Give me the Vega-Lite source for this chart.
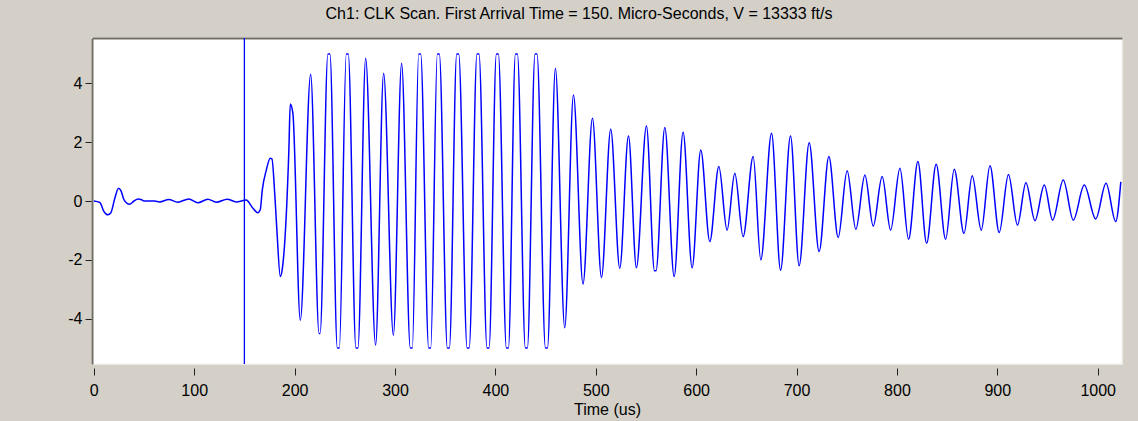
{
  "$schema": "https://vega.github.io/schema/vega-lite/v6.json",
  "width": 1030,
  "height": 326,
  "autosize": {"type": "none"},
  "padding": {"left": 92, "top": 38, "right": 16, "bottom": 57},
  "background": "#d4d0c8",
  "title": {
    "text": "Ch1: CLK Scan. First Arrival Time = 150. Micro-Seconds, V = 13333 ft/s",
    "font": "Liberation Sans",
    "fontSize": 16,
    "fontWeight": "normal",
    "color": "#000000",
    "anchor": "middle",
    "frame": "group",
    "baseline": "alphabetic",
    "offset": 2,
    "dx": -28
  },
  "config": {
    "view": {"fill": "#ffffff", "stroke": "#f4f3ee", "strokeWidth": 1.5}
  },
  "layer": [
    {
      "data": {
        "values": [
          {"t": 0, "v": 0}, {"t": 6, "v": -0.05}, {"t": 10, "v": -0.35}, {"t": 14, "v": -0.47}, {"t": 17, "v": -0.4},
          {"t": 21, "v": 0.1}, {"t": 24.6, "v": 0.43}, {"t": 27, "v": 0.35}, {"t": 30, "v": 0.05}, {"t": 35.6, "v": -0.11},
          {"t": 40, "v": 0.0}, {"t": 43.9, "v": 0.07}, {"t": 47, "v": 0.05}, {"t": 50, "v": 0}, {"t": 60.5, "v": 0},
          {"t": 65.5, "v": -0.03}, {"t": 74.7, "v": 0.05}, {"t": 83.7, "v": -0.04}, {"t": 94.7, "v": 0.07}, {"t": 103.6, "v": -0.06},
          {"t": 113.6, "v": 0.06}, {"t": 122, "v": -0.04}, {"t": 132.9, "v": 0.06}, {"t": 141.9, "v": -0.03}, {"t": 151.9, "v": 0.03},
          {"t": 157.5, "v": -0.2}, {"t": 163.4, "v": -0.4}, {"t": 165.8, "v": -0.3}, {"t": 167.8, "v": 0.37}, {"t": 171.8, "v": 1.05},
          {"t": 175.8, "v": 1.45}, {"t": 177.4, "v": 1.43}, {"t": 180.4, "v": 0.15}, {"t": 182.4, "v": -1.0}, {"t": 185.8, "v": -2.57},
          {"t": 187.8, "v": -2.3}, {"t": 194.3, "v": 1.73}, {"t": 195.7, "v": 3.3}, {"t": 198.3, "v": 2.98},
          {"t": 205.7, "v": -4.05}, {"t": 216, "v": 4.31}, {"t": 224.4, "v": -4.5}, {"t": 225.4, "v": -4.5},
          {"t": 233.2, "v": 5}, {"t": 235.2, "v": 5}, {"t": 242.6, "v": -5}, {"t": 244.6, "v": -5},
          {"t": 251.5, "v": 5}, {"t": 253.5, "v": 5}, {"t": 261.1, "v": -5}, {"t": 263.1, "v": -5},
          {"t": 270.8, "v": 4.85}, {"t": 280.7, "v": -4.9}, {"t": 288.7, "v": 4.34}, {"t": 298.4, "v": -4.56},
          {"t": 306.6, "v": 4.68}, {"t": 315.3, "v": -5}, {"t": 317.3, "v": -5}, {"t": 323.6, "v": 5}, {"t": 325.6, "v": 5},
          {"t": 333.6, "v": -5}, {"t": 335.6, "v": -5}, {"t": 342.2, "v": 5}, {"t": 344.2, "v": 5},
          {"t": 352.2, "v": -5}, {"t": 354.2, "v": -5}, {"t": 361.5, "v": 5}, {"t": 363.5, "v": 5},
          {"t": 371.9, "v": -5}, {"t": 373.9, "v": -5}, {"t": 381.7, "v": 5}, {"t": 383.7, "v": 5},
          {"t": 391.7, "v": -5}, {"t": 393.7, "v": -5}, {"t": 401, "v": 5}, {"t": 403, "v": 5},
          {"t": 411, "v": -5}, {"t": 413, "v": -5}, {"t": 420, "v": 5}, {"t": 422, "v": 5},
          {"t": 429.9, "v": -5}, {"t": 431.9, "v": -5}, {"t": 439.5, "v": 5}, {"t": 441.5, "v": 5},
          {"t": 449.9, "v": -5}, {"t": 451.9, "v": -5}, {"t": 459.8, "v": 4.51}, {"t": 469.1, "v": -4.31},
          {"t": 477.8, "v": 3.6}, {"t": 487.3, "v": -2.82}, {"t": 496.7, "v": 2.81}, {"t": 505.7, "v": -2.6},
          {"t": 514.9, "v": 2.44}, {"t": 523.9, "v": -2.29}, {"t": 532.6, "v": 2.21}, {"t": 540.5, "v": -2.27},
          {"t": 550.5, "v": 2.55}, {"t": 558.5, "v": -2.37}, {"t": 560, "v": -2.37}, {"t": 568.8, "v": 2.5},
          {"t": 578.1, "v": -2.57}, {"t": 587, "v": 2.34}, {"t": 596, "v": -2.27}, {"t": 604.6, "v": 1.73},
          {"t": 613.6, "v": -1.38}, {"t": 622.6, "v": 1.17}, {"t": 630.8, "v": -0.99}, {"t": 638.5, "v": 0.94},
          {"t": 646.8, "v": -1.21}, {"t": 656.8, "v": 1.51}, {"t": 664.4, "v": -2.0}, {"t": 675.1, "v": 2.3},
          {"t": 684.1, "v": -2.35}, {"t": 694, "v": 2.21}, {"t": 702.6, "v": -2.2}, {"t": 712.6, "v": 1.98},
          {"t": 722.5, "v": -1.72}, {"t": 732.2, "v": 1.51}, {"t": 741.5, "v": -1.24}, {"t": 750.4, "v": 1.03},
          {"t": 759.1, "v": -0.96}, {"t": 768.1, "v": 0.88}, {"t": 776.4, "v": -0.85}, {"t": 785.3, "v": 0.83},
          {"t": 793.7, "v": -0.99}, {"t": 803, "v": 1.11}, {"t": 811.6, "v": -1.3}, {"t": 820.9, "v": 1.34},
          {"t": 829.6, "v": -1.44}, {"t": 839.1, "v": 1.25}, {"t": 848.5, "v": -1.3}, {"t": 857.1, "v": 1.08},
          {"t": 866.8, "v": -1.1}, {"t": 875, "v": 0.86}, {"t": 884, "v": -0.99}, {"t": 892.7, "v": 1.2},
          {"t": 901.9, "v": -1.07}, {"t": 911.1, "v": 0.9}, {"t": 920.1, "v": -0.82}, {"t": 928.5, "v": 0.62},
          {"t": 937.5, "v": -0.67}, {"t": 946.8, "v": 0.54}, {"t": 955.1, "v": -0.65}, {"t": 965.7, "v": 0.71},
          {"t": 975.7, "v": -0.65}, {"t": 986.6, "v": 0.54}, {"t": 998, "v": -0.61}, {"t": 1008.3, "v": 0.6},
          {"t": 1017.9, "v": -0.7}, {"t": 1023, "v": 0.65}
        ]
      },
      "mark": {"type": "line", "color": "#0000ff", "strokeWidth": 1.5, "interpolate": "monotone", "clip": true},
      "encoding": {
        "x": {
          "field": "t",
          "type": "quantitative",
          "scale": {"domain": [-1.8, 1024.2], "nice": false, "zero": false},
          "axis": {
            "orient": "bottom",
            "offset": 4,
            "domain": false,
            "grid": false,
            "tickSize": 7,
            "tickColor": "#222222",
            "tickWidth": 1,
            "values": [0, 100, 200, 300, 400, 500, 600, 700, 800, 900, 1000],
            "format": "d",
            "labelFont": "Liberation Sans",
            "labelFontSize": 16,
            "labelColor": "#000000",
            "labelPadding": 7,
            "labelFlush": false,
            "labelOverlap": false,
            "title": "Time (us)",
            "titleFont": "Liberation Sans",
            "titleFontSize": 16,
            "titleFontWeight": "normal",
            "titleColor": "#000000",
            "titlePadding": 3
          }
        },
        "y": {
          "field": "v",
          "type": "quantitative",
          "scale": {"domain": [-5.54, 5.54], "nice": false, "zero": false},
          "axis": {
            "orient": "left",
            "domain": true,
            "domainColor": "#716f64",
            "domainWidth": 2,
            "grid": false,
            "tickSize": 7,
            "tickColor": "#222222",
            "tickWidth": 1,
            "values": [-4, -2, 0, 2, 4],
            "labelExpr": "replace(datum.label, '\u2212', '-')",
            "labelFont": "Liberation Sans",
            "labelFontSize": 16,
            "labelColor": "#000000",
            "labelPadding": 3,
            "title": null
          }
        }
      }
    },
    {
      "data": {"values": [{"t": 150}]},
      "mark": {"type": "rule", "color": "#0000ff", "strokeWidth": 1.3},
      "encoding": {
        "x": {
          "field": "t",
          "type": "quantitative",
          "axis": {
            "orient": "top",
            "domain": true,
            "domainColor": "#716f64",
            "domainWidth": 2,
            "ticks": false,
            "labels": false,
            "grid": false,
            "title": null
          }
        }
      }
    }
  ],
  "resolve": {"axis": {"x": "independent"}}
}
